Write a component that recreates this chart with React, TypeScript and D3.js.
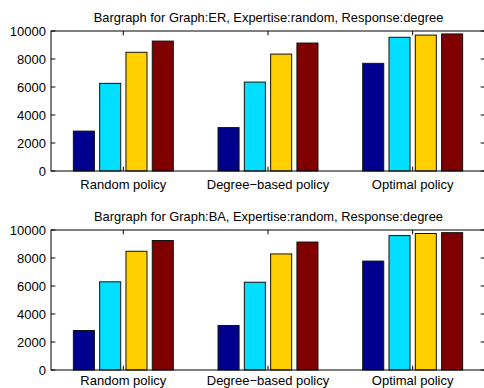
import React, { useEffect, useRef } from "react";
import * as d3 from "d3";

const categories = ["Random policy", "Degree\u2212based policy", "Optimal policy"];
const yTicks = [0, 2000, 4000, 6000, 8000, 10000];
const seriesColors = ["#00008f", "#00dfff", "#ffcf00", "#800000"];

// ER graph, one array per bar series (values for the 3 policies)
const erSeries1 = [2850, 3100, 7690];
const erSeries2 = [6260, 6350, 9550];
const erSeries3 = [8480, 8350, 9710];
const erSeries4 = [9280, 9140, 9790];

// BA graph
const baSeries1 = [2820, 3180, 7780];
const baSeries2 = [6300, 6270, 9600];
const baSeries3 = [8480, 8290, 9750];
const baSeries4 = [9250, 9140, 9810];

const panels = [
  {
    title: "Bargraph for Graph:ER, Expertise:random, Response:degree",
    series: [erSeries1, erSeries2, erSeries3, erSeries4],
    top: 31,
    labelGap: 17.5,
  },
  {
    title: "Bargraph for Graph:BA, Expertise:random, Response:degree",
    series: [baSeries1, baSeries2, baSeries3, baSeries4],
    top: 230,
    labelGap: 15.3,
  },
];

const W = 484;
const H = 388;
const FONT = "'Liberation Sans', Arial, Helvetica, sans-serif";

const App = () => {
  const ref = useRef(null);

  useEffect(() => {
    const svg = d3.select(ref.current);
    svg.selectAll("*").remove();

    const left = 51;
    const right = 485;
    const plotH = 140;
    const tickLen = 4.3;

    const x = d3.scaleLinear().domain([0.5, 3.5]).range([left, right]);

    panels.forEach((p) => {
      const y = d3.scaleLinear().domain([0, 10000]).range([p.top + plotH, p.top]);
      const g = svg.append("g");

      // matlab-like grouped bar layout
      const n = p.series.length;
      const groupW = Math.min(0.8, n / (n + 1.5));
      const pitch = groupW / n;
      const barW = pitch * 0.8;

      p.series.forEach((vals, si) => {
        g.selectAll(null)
          .data(vals)
          .enter()
          .append("rect")
          .attr("x", (d, i) => x(i + 1 + (si - (n - 1) / 2) * pitch - barW / 2))
          .attr("width", x(barW) - x(0))
          .attr("y", (d) => y(d))
          .attr("height", (d) => y(0) - y(d))
          .attr("fill", seriesColors[si])
          .attr("stroke", "#111")
          .attr("stroke-width", 1);
      });

      // box
      g.append("rect")
        .attr("x", left)
        .attr("y", p.top)
        .attr("width", right - left)
        .attr("height", plotH)
        .attr("fill", "none")
        .attr("stroke", "#000")
        .attr("stroke-width", 1);

      // y ticks (inside, both sides)
      yTicks.forEach((t) => {
        g.append("line")
          .attr("x1", left).attr("x2", left + tickLen)
          .attr("y1", y(t)).attr("y2", y(t))
          .attr("stroke", "#000");
        g.append("line")
          .attr("x1", right).attr("x2", right - tickLen)
          .attr("y1", y(t)).attr("y2", y(t))
          .attr("stroke", "#000");
        g.append("text")
          .attr("x", left - 5)
          .attr("y", y(t))
          .attr("dy", "0.36em")
          .attr("text-anchor", "end")
          .attr("font-family", FONT)
          .attr("font-size", 13)
          .text(t);
      });

      // x ticks (inside, top and bottom)
      categories.forEach((c, i) => {
        const cx = x(i + 1);
        g.append("line")
          .attr("x1", cx).attr("x2", cx)
          .attr("y1", p.top + plotH).attr("y2", p.top + plotH - tickLen)
          .attr("stroke", "#000");
        g.append("line")
          .attr("x1", cx).attr("x2", cx)
          .attr("y1", p.top).attr("y2", p.top + tickLen)
          .attr("stroke", "#000");
        g.append("text")
          .attr("x", cx)
          .attr("y", p.top + plotH + p.labelGap)
          .attr("text-anchor", "middle")
          .attr("font-family", FONT)
          .attr("font-size", 13)
          .text(c);
      });

      g.append("text")
        .attr("x", (left + right) / 2 + 0.5)
        .attr("y", p.top - 9.5)
        .attr("text-anchor", "middle")
        .attr("font-family", FONT)
        .attr("font-size", 12.9)
        .text(p.title);
    });
  }, []);

  return (
    <svg
      ref={ref}
      width={W}
      height={H}
      style={{ position: "absolute", left: 0, top: 0, background: "#fff" }}
    />
  );
};

export default App;
